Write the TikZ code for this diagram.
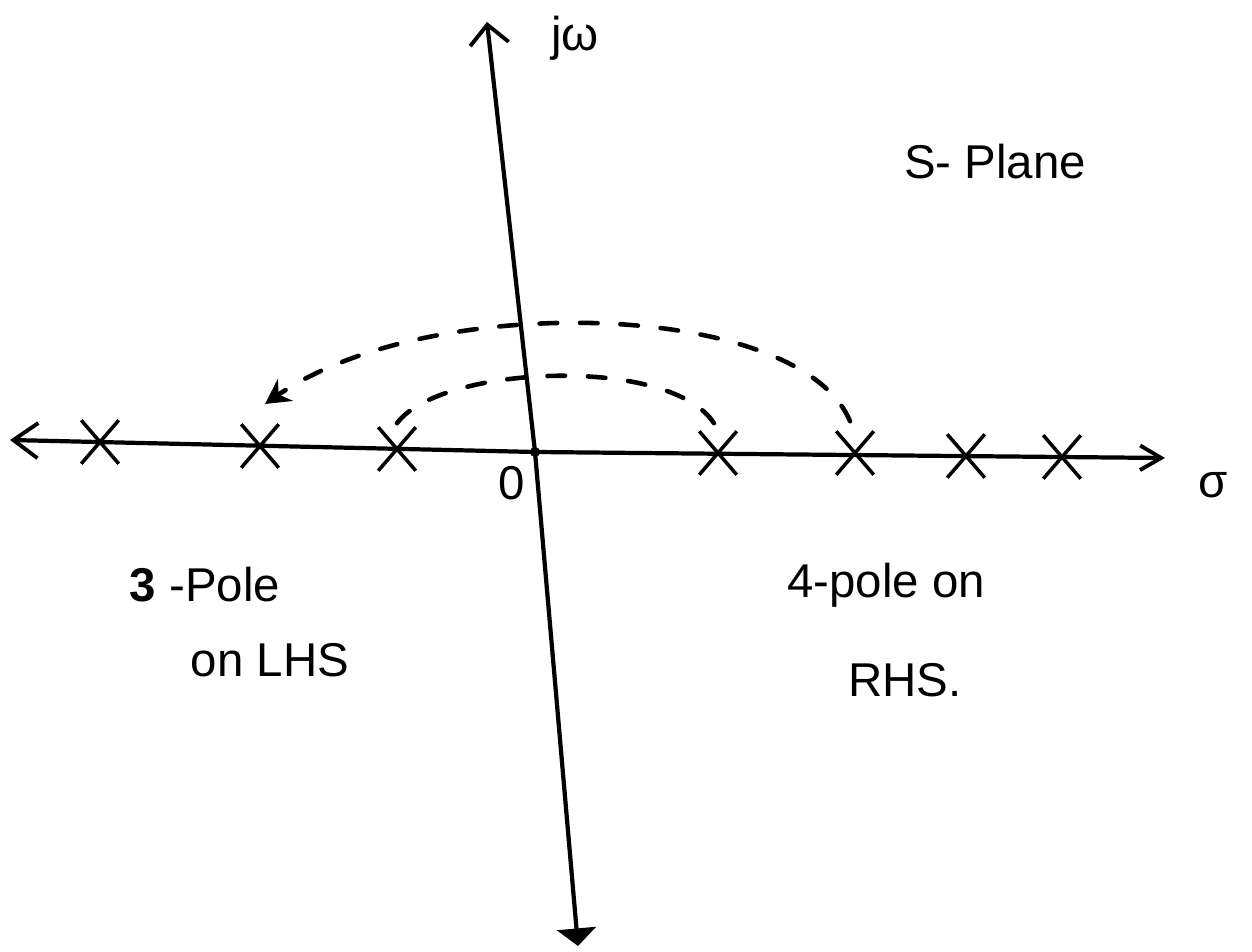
\documentclass[tikz,border=0pt]{standalone}
\usepackage{fontspec}
\setmainfont{Liberation Sans}
\usetikzlibrary{arrows.meta,shapes.misc,calc}
\begin{document}
\begin{tikzpicture}[x=0.02cm,y=-0.02cm,
  axisline/.style={line width=2.4pt,line cap=round},
  pole/.style={cross out,draw,line width=2pt,minimum width=0.68cm,minimum height=0.8cm,inner sep=0pt},
  dasharc/.style={line width=2.6pt,dash pattern=on 10pt off 13pt,line cap=round},
  lbl/.style={font=\fontsize{27}{30}\selectfont,inner sep=0pt}]
\useasboundingbox (0,0) rectangle (1252,952);
% axes
\coordinate (L) at (10,440);
\coordinate (R) at (1165,458);
\coordinate (T) at (487,22);
\coordinate (B) at (578,946);
\coordinate (O) at (535,452);
\draw[axisline,{Straight Barb[length=14pt,width=20pt,line width=2.2pt]}-{Straight Barb[length=12pt,width=14pt,line width=2.2pt]}] (L) -- (O) -- (R);
\draw[axisline,{Straight Barb[length=11pt,width=22pt,line width=2.2pt]}-{Triangle[length=10pt,width=22pt]}] (T) -- (O) -- (B);
\fill (O) circle (5);
% poles
\node[pole] (p1) at (100,442) {};
\node[pole] (p2) at (260,446) {};
\node[pole] (p3) at (397,449) {};
\node[pole] (p4) at (718,453) {};
\node[pole] (p5) at (855,453) {};
\node[pole] (p6) at (966,456) {};
\node[pole] (p7) at (1062,457) {};
% dashed arcs
\draw[dasharc] ($(p3.north)+(0,-4)$) .. controls (440,365) and (670,355) .. ($(p4.north)+(-4,-8)$);
\coordinate (arrend) at (265,404);
\draw[dasharc,-{Stealth[length=14pt,width=15pt]}] ($(p5.north)+(-5,-10)$) .. controls (800,300) and (430,290) .. (arrend);
% labels
\node[lbl] (jw) at (575,38) {jω};
\node[lbl] (sig) at (1213,485) {σ};
\node[lbl] (zero) at (512,483) {0};
\node[lbl] (sp) at (995,162) {S- Plane};
\node[lbl] (l1) at (205,585) {\textbf{3} -Pole};
\node[lbl] (l2) at (270,660) {on LHS};
\node[lbl] (r1) at (886,585) {4-pole on};
\node[lbl] (r2) at (905,680) {RHS.};
\end{tikzpicture}
\end{document}
